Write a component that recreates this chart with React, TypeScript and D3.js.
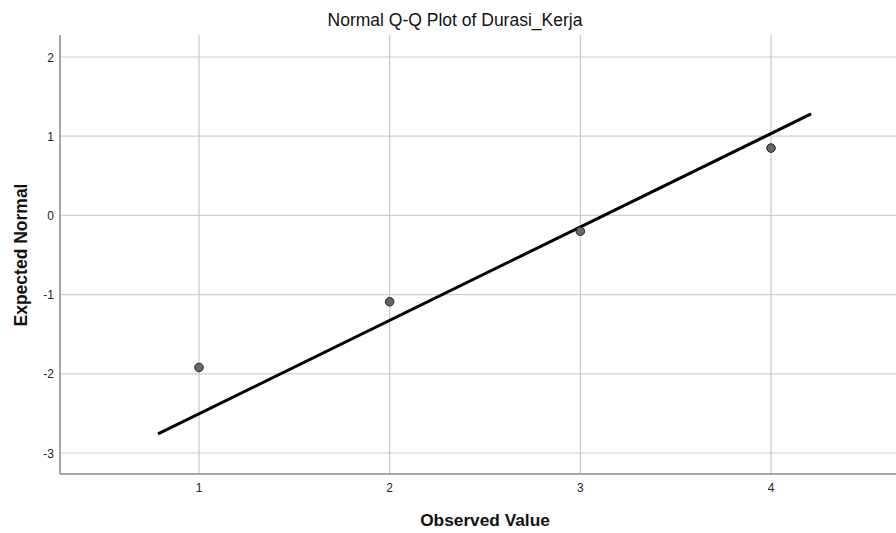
import React from "react";
import * as d3 from "d3";

const observed = [1, 2, 3, 4];
const expectedNormal = [-1.92, -1.09, -0.2, 0.85];
const lineX = [0.785, 4.21];
const lineMean = 3.124;
const lineSd = 0.848;
const xTicks = [1, 2, 3, 4];
const yTicks = [-3, -2, -1, 0, 1, 2];

const W = 896;
const H = 533;
const left = 60;
const right = 896;
const top = 35;
const bottom = 474;

export default function App() {
  const x = d3.scaleLinear().domain([1, 4]).range([199, 771]);
  const y = d3.scaleLinear().domain([-3, 2]).range([453, 57]);
  const line = d3
    .line<number>()
    .x((d) => x(d))
    .y((d) => y((d - lineMean) / lineSd));
  const font = "Liberation Sans, Arial, sans-serif";
  return (
    <svg
      width={W}
      height={H}
      style={{ position: "absolute", left: 0, top: 0, background: "#fff" }}
      fontFamily={font}
    >
      <rect x={0} y={0} width={W} height={H} fill="#fff" />
      {yTicks.map((t) => (
        <line key={"gy" + t} x1={left} x2={right} y1={y(t)} y2={y(t)} stroke="#d0d0d0" strokeWidth={1.2} />
      ))}
      {xTicks.map((t) => (
        <line key={"gx" + t} x1={x(t)} x2={x(t)} y1={top} y2={bottom} stroke="#c8c8c8" strokeWidth={1.2} />
      ))}
      <line x1={left} x2={left} y1={top} y2={bottom} stroke="#8a8a8a" strokeWidth={1.5} />
      <line x1={left} x2={right} y1={bottom} y2={bottom} stroke="#8a8a8a" strokeWidth={1.5} />
      {yTicks.map((t) => (
        <text key={"ty" + t} x={54} y={y(t) + 4.5} fontSize={12} textAnchor="end" fill="#222">
          {t}
        </text>
      ))}
      {xTicks.map((t) => (
        <text key={"tx" + t} x={x(t)} y={492} fontSize={12} textAnchor="middle" fill="#222">
          {t}
        </text>
      ))}
      <path d={line(lineX) || ""} stroke="#000" strokeWidth={3} fill="none" />
      {observed.map((o, i) => (
        <circle key={"p" + i} cx={x(o)} cy={y(expectedNormal[i])} r={4.3} fill="#666" stroke="#222" strokeWidth={1} />
      ))}
      <text x={455} y={26} fontSize={17.5} textAnchor="middle" fill="#111">
        Normal Q-Q Plot of Durasi_Kerja
      </text>
      <text x={485} y={526} fontSize={17.3} fontWeight="bold" textAnchor="middle" fill="#111">
        Observed Value
      </text>
      <text
        transform={`translate(27,255) rotate(-90)`}
        fontSize={17.5}
        fontWeight="bold"
        textAnchor="middle"
        fill="#111"
      >
        Expected Normal
      </text>
    </svg>
  );
}
